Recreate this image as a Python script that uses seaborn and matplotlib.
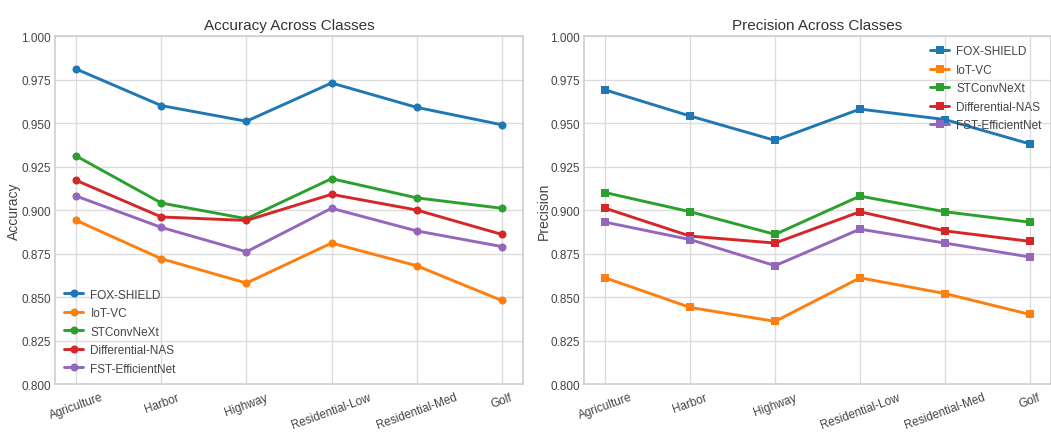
import matplotlib
matplotlib.use("Agg")
import matplotlib.pyplot as plt
import seaborn as sns
import pandas as pd

classes = ["Agriculture", "Harbor", "Highway", "Residential-Low", "Residential-Med", "Golf"]
models = ["FOX-SHIELD", "IoT-VC", "STConvNeXt", "Differential-NAS", "FST-EfficientNet"]

acc_fox_shield = [0.981, 0.960, 0.951, 0.973, 0.959, 0.949]
acc_iot_vc = [0.894, 0.872, 0.858, 0.881, 0.868, 0.848]
acc_stconvnext = [0.931, 0.904, 0.895, 0.918, 0.907, 0.901]
acc_differential_nas = [0.917, 0.896, 0.894, 0.909, 0.900, 0.886]
acc_fst_efficientnet = [0.908, 0.890, 0.876, 0.901, 0.888, 0.879]

prec_fox_shield = [0.969, 0.954, 0.940, 0.958, 0.952, 0.938]
prec_iot_vc = [0.861, 0.844, 0.836, 0.861, 0.852, 0.840]
prec_stconvnext = [0.910, 0.899, 0.886, 0.908, 0.899, 0.893]
prec_differential_nas = [0.901, 0.885, 0.881, 0.899, 0.888, 0.882]
prec_fst_efficientnet = [0.893, 0.883, 0.868, 0.889, 0.881, 0.873]

acc_series = [acc_fox_shield, acc_iot_vc, acc_stconvnext, acc_differential_nas, acc_fst_efficientnet]
prec_series = [prec_fox_shield, prec_iot_vc, prec_stconvnext, prec_differential_nas, prec_fst_efficientnet]


def long_frame(series, metric):
    rows = []
    for name, vals in zip(models, series):
        for c, v in zip(classes, vals):
            rows.append({"Class": c, "Model": name, metric: v})
    return pd.DataFrame(rows)


sns.set_theme(style="whitegrid")
plt.rcParams["font.family"] = ["Liberation Sans", "DejaVu Sans"]
plt.rcParams["axes.edgecolor"] = "#d0d0d0"
plt.rcParams["grid.color"] = "#dcdcdc"

palette = sns.color_palette("tab10", len(models))

fig = plt.figure(figsize=(10.51, 4.39), dpi=100)
ax1 = fig.add_axes([0.0523, 0.123, 0.4453, 0.7927])
ax2 = fig.add_axes([0.5557, 0.123, 0.4443, 0.7927])

panels = [
    (ax1, acc_series, "Accuracy", "Accuracy Across Classes", "o", "lower left"),
    (ax2, prec_series, "Precision", "Precision Across Classes", "s", "upper right"),
]

for ax, series, metric, title, marker, loc in panels:
    df = long_frame(series, metric)
    sns.lineplot(data=df, x="Class", y=metric, hue="Model", hue_order=models,
                 palette=palette, marker=marker, markersize=5.8,
                 markeredgewidth=0, linewidth=2.1, ax=ax, sort=False)
    ax.set_ylim(0.8, 1.0)
    ax.set_yticks([0.800, 0.825, 0.850, 0.875, 0.900, 0.925, 0.950, 0.975, 1.000])
    ax.set_yticklabels([f"{t:.3f}" for t in ax.get_yticks()])
    ax.set_title(title, fontsize=11, color="#333333", pad=5)
    ax.set_xlabel("")
    ax.set_ylabel(metric, fontsize=10, color="#444444")
    ax.yaxis.set_label_coords(-0.072, 0.5)
    ax.tick_params(axis="y", labelsize=8.5, colors="#444444", length=0, pad=3)
    ax.tick_params(axis="x", labelsize=8.5, colors="#444444", length=0, pad=5)
    for lab in ax.get_xticklabels():
        lab.set_rotation(20)
        lab.set_ha("center")
    leg = ax.legend(loc=loc, frameon=False, fontsize=8.5, handlelength=1.6,
                    handletextpad=0.6, labelspacing=0.55, borderaxespad=0.4)
    for t in leg.get_texts():
        t.set_color("#444444")
    for spine in ax.spines.values():
        spine.set_color("#d0d0d0")

fig.savefig("out.png", dpi=100)
